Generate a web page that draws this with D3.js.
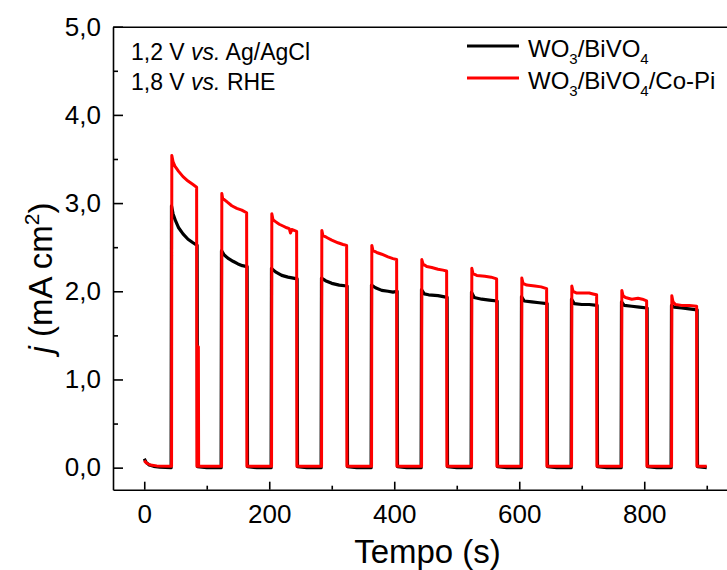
<!DOCTYPE html>
<html>
<head>
<meta charset="utf-8">
<script src="https://cdn.jsdelivr.net/npm/d3@7"></script>
<style>
  html, body { margin: 0; padding: 0; background: #fff; }
  svg { display: block; font-family: "Liberation Sans", Arial, sans-serif; }
</style>
</head>
<body>
<svg id="chart" width="727" height="570"></svg>
<script>
// Chronoamperometry under chopped light: WO3/BiVO4 (black) and WO3/BiVO4/Co-Pi (red)
const tempoWO3BiVO4 = [
  0, 3, 8, 15, 25, 42.5,
  43, 43.6, 46, 50, 55, 62, 70, 78, 84.6, 85.2, 100, 123,
  123.6, 128, 135, 142, 150, 157, 164.6, 165.2, 180, 203,
  203.6, 210, 220, 230, 244.6, 245.2, 260, 283,
  283.6, 290, 300, 312, 324.6, 325.2, 340, 363,
  363.6, 370, 380, 390, 398, 404.6, 405.2, 420, 443,
  443.6, 448, 455, 470, 484.6, 485.2, 500, 523,
  523.6, 528, 540, 552, 564.6, 565.2, 580, 603,
  603.6, 608, 620, 632, 644.6, 645.2, 660, 683,
  683.6, 688, 700, 712, 724.6, 725.2, 740, 763,
  763.6, 768, 780, 792, 804.6, 805.2, 820, 843,
  843.6, 848, 860, 872, 884.6, 885.2, 900
];
const jWO3BiVO4 = [
  0.10, 0.06, 0.03, 0.015, 0.005, 0.0,
  0.0, 2.97, 2.88, 2.80, 2.72, 2.65, 2.59, 2.55, 2.52, 0.01, 0.0, 0.0,
  2.46, 2.41, 2.37, 2.34, 2.31, 2.29, 2.28, 0.01, 0.0, 0.0,
  2.26, 2.22, 2.18, 2.16, 2.14, 0.01, 0.0, 0.0,
  2.15, 2.12, 2.09, 2.07, 2.06, 0.01, 0.0, 0.0,
  2.07, 2.04, 2.01, 2.00, 1.99, 2.00, 0.01, 0.0, 0.0,
  2.02, 1.97, 1.96, 1.95, 1.93, 0.01, 0.0, 0.0,
  1.99, 1.93, 1.91, 1.90, 1.89, 0.01, 0.0, 0.0,
  1.94, 1.89, 1.88, 1.87, 1.86, 0.01, 0.0, 0.0,
  1.91, 1.86, 1.85, 1.85, 1.84, 0.01, 0.0, 0.0,
  1.88, 1.84, 1.83, 1.82, 1.81, 0.01, 0.0, 0.0,
  1.84, 1.82, 1.81, 1.80, 1.79, 0.01, 0.0
];

const tempoCoPi = [
  0, 4, 10, 20, 43.7,
  44.1, 46, 49, 55, 62, 70, 78, 83.8, 84.3, 86.3, 86.6, 87.0, 105, 123.7,
  124.1, 125.5, 128, 133, 140, 148, 156, 163.8, 164.3, 185, 203.7,
  204.1, 206, 210, 216, 222, 228, 232, 234, 236, 240, 243.8, 244.3, 265, 283.7,
  284.1, 286, 292, 300, 310, 318, 323.8, 324.3, 345, 363.7,
  364.1, 366, 372, 380, 390, 398, 403.8, 404.3, 425, 443.7,
  444.1, 446, 452, 460, 470, 478, 483.8, 484.3, 505, 523.7,
  524.1, 526, 532, 545, 555, 563.8, 564.3, 585, 603.7,
  604.1, 606, 612, 625, 635, 643.8, 644.3, 665, 683.7,
  684.1, 686, 692, 702, 712, 718, 723.8, 724.3, 745, 763.7,
  764.1, 766, 770, 780, 790, 797, 803.8, 804.3, 825, 843.7,
  844.1, 846, 850, 860, 872, 883.8, 884.3, 900
];
const jCoPi = [
  0.08, 0.05, 0.03, 0.02, 0.015,
  3.54, 3.47, 3.42, 3.36, 3.30, 3.25, 3.21, 3.18, 0.015, 0.015, 1.37, 0.015, 0.015, 0.015,
  3.11, 3.05, 3.04, 3.01, 2.97, 2.94, 2.92, 2.89, 0.015, 0.015, 0.015,
  2.88, 2.81, 2.79, 2.76, 2.74, 2.72, 2.71, 2.66, 2.70, 2.69, 2.68, 0.015, 0.015, 0.015,
  2.69, 2.63, 2.61, 2.58, 2.55, 2.53, 2.52, 0.015, 0.015, 0.015,
  2.52, 2.46, 2.44, 2.42, 2.39, 2.37, 2.36, 0.015, 0.015, 0.015,
  2.36, 2.31, 2.28, 2.27, 2.25, 2.24, 2.23, 0.015, 0.015, 0.015,
  2.26, 2.20, 2.18, 2.17, 2.16, 2.14, 0.015, 0.015, 0.015,
  2.15, 2.09, 2.07, 2.06, 2.05, 2.03, 0.015, 0.015, 0.015,
  2.06, 2.00, 1.98, 1.98, 1.98, 1.97, 1.96, 0.015, 0.015, 0.015,
  2.01, 1.95, 1.93, 1.91, 1.92, 1.91, 1.89, 0.015, 0.015, 0.015,
  1.95, 1.88, 1.85, 1.84, 1.84, 1.83, 0.015, 0.015
];

const yMajorTicks = [0, 1, 2, 3, 4, 5];
const yMinorTicks = [0.5, 1.5, 2.5, 3.5, 4.5];
const xMajorTicks = [0, 200, 400, 600, 800];
const xMinorTicks = [100, 300, 500, 700, 900];

const seriesNames = ["WO3/BiVO4", "WO3/BiVO4/Co-Pi"];
const seriesColors = ["#000000", "#ff0000"];

const svg = d3.select("#chart");
const x = d3.scaleLinear().domain([-50, 950]).range([113, 738]);
const y = d3.scaleLinear().domain([-0.25, 5.0]).range([489.7, 26.7]);

const fmtY = d => d.toFixed(1).replace(".", ",");

// Data traces (black below, red on top)
const line = d3.line().x(d => x(d[0])).y(d => y(d[1]));
const blackPts = tempoWO3BiVO4.map((t, i) => [t, jWO3BiVO4[i]]);
const redPts = tempoCoPi.map((t, i) => [t, jCoPi[i]]);

svg.append("path").datum(blackPts).attr("d", line)
  .attr("fill", "none").attr("stroke", seriesColors[0])
  .attr("stroke-width", 3.2).attr("stroke-linejoin", "round");
svg.append("path").datum(redPts).attr("d", line)
  .attr("fill", "none").attr("stroke", seriesColors[1])
  .attr("stroke-width", 3).attr("stroke-linejoin", "round");

// Axes: ticks point inward, comma decimals on j axis
function styleAxis(g) {
  g.selectAll(".domain").attr("stroke", "#000").attr("stroke-width", 1.6);
  g.selectAll(".tick line").attr("stroke", "#000").attr("stroke-width", 1.6);
  g.selectAll("text").attr("fill", "#000");
}

const gy = svg.append("g").attr("transform", `translate(${x(-50)},0)`)
  .call(d3.axisLeft(y).tickValues(yMajorTicks).tickFormat(fmtY)
    .tickSizeInner(-10).tickSizeOuter(0).tickPadding(12))
  .attr("font-size", 26).attr("font-family", null);
styleAxis(gy);
const gyMinor = svg.append("g").attr("transform", `translate(${x(-50)},0)`)
  .call(d3.axisLeft(y).tickValues(yMinorTicks).tickFormat("")
    .tickSizeInner(-5).tickSizeOuter(0));
gyMinor.select(".domain").remove();
styleAxis(gyMinor);

const gx = svg.append("g").attr("transform", `translate(0,${y(-0.25)})`)
  .call(d3.axisBottom(x).tickValues(xMajorTicks).tickFormat(d3.format("d"))
    .tickSizeInner(-8).tickSizeOuter(0).tickPadding(15))
  .attr("font-size", 26).attr("font-family", null);
styleAxis(gx);
const gxMinor = svg.append("g").attr("transform", `translate(0,${y(-0.25)})`)
  .call(d3.axisBottom(x).tickValues(xMinorTicks).tickFormat("")
    .tickSizeInner(-4).tickSizeOuter(0));
gxMinor.select(".domain").remove();
styleAxis(gxMinor);

const gTop = svg.append("g").attr("transform", `translate(0,${y(5.0)})`)
  .call(d3.axisTop(x).tickValues([]).tickSizeOuter(0));
styleAxis(gTop);
const gRight = svg.append("g").attr("transform", `translate(${x(950)},0)`)
  .call(d3.axisRight(y).tickValues([]).tickSizeOuter(0));
styleAxis(gRight);

// Axis titles
svg.append("text").attr("x", (x(-50) + x(950)) / 2 + 2).attr("y", 563)
  .attr("text-anchor", "middle").attr("font-size", 33).text("Tempo (s)");

const yl = svg.append("text")
  .attr("transform", "translate(52,278) rotate(-90)")
  .attr("text-anchor", "middle").attr("font-size", 33);
yl.append("tspan").attr("font-style", "italic").text("j");
yl.append("tspan").text(" (mA cm");
yl.append("tspan").attr("font-size", 21).attr("dy", -13).text("2");
yl.append("tspan").attr("dy", 13).text(")");

// Bias annotation
const note1 = svg.append("text").attr("x", 131).attr("y", 60).attr("font-size", 23);
note1.append("tspan").text("1,2 V ");
note1.append("tspan").attr("font-style", "italic").text("vs.");
note1.append("tspan").text(" Ag/AgCl");
const note2 = svg.append("text").attr("x", 131).attr("y", 90).attr("font-size", 23);
note2.append("tspan").text("1,8 V ");
note2.append("tspan").attr("font-style", "italic").text("vs.");
note2.append("tspan").text(" RHE");

// Legend with subscripted formulas
const legendY = [46, 78];
function formula(textSel, str) {
  const parts = str.split(/(\d)/).filter(s => s.length);
  let sub = false;
  parts.forEach(p => {
    const isDigit = /\d/.test(p);
    const ts = textSel.append("tspan").text(p);
    if (isDigit && !sub) { ts.attr("dy", 7).attr("font-size", 15); sub = true; }
    else if (!isDigit && sub) { ts.attr("dy", -7); sub = false; }
  });
}
seriesNames.forEach((name, i) => {
  svg.append("line")
    .attr("x1", 467).attr("x2", 519)
    .attr("y1", legendY[i]).attr("y2", legendY[i])
    .attr("stroke", seriesColors[i]).attr("stroke-width", 3);
  const t = svg.append("text").attr("x", 528).attr("y", legendY[i] + 11)
    .attr("font-size", 24);
  formula(t, name);
});
</script>
</body>
</html>
